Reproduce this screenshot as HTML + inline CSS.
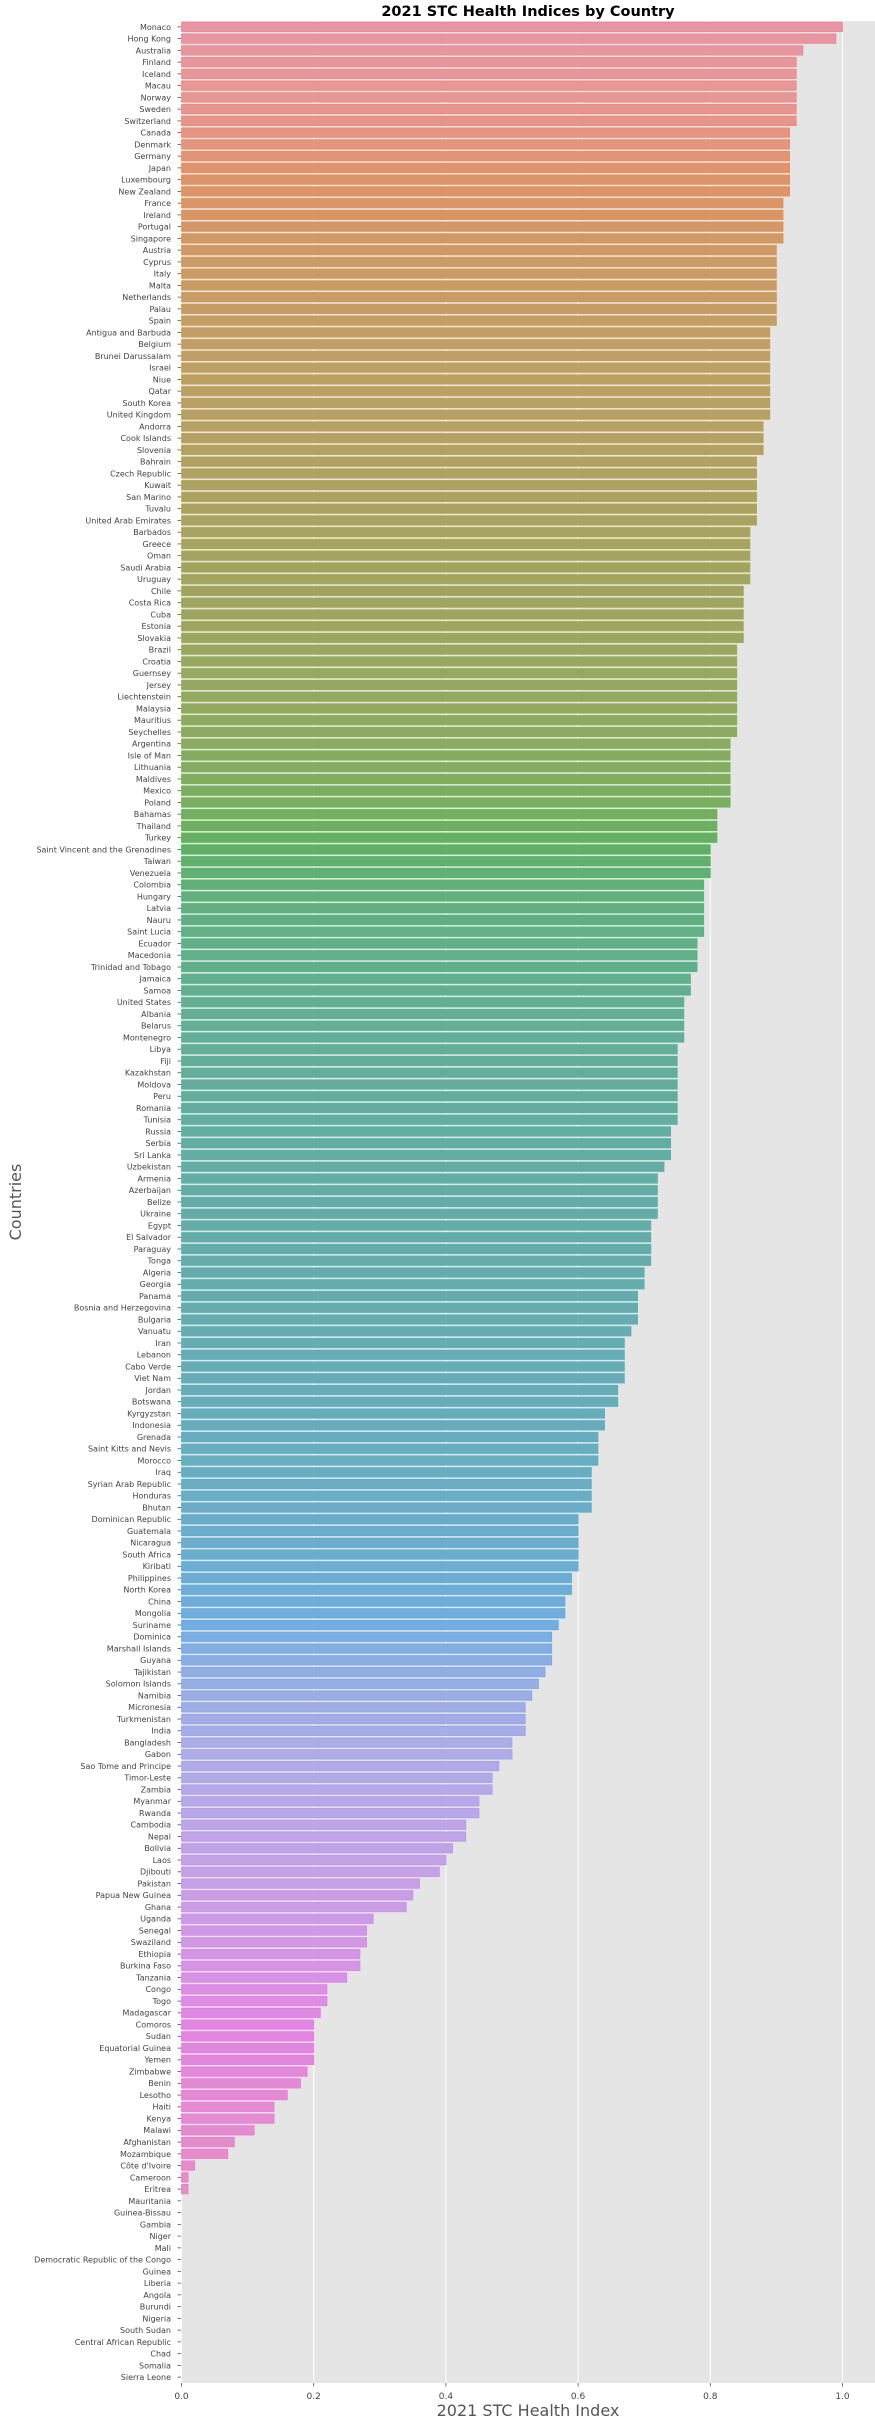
<!DOCTYPE html>
<html><head><meta charset="utf-8"><title>2021 STC Health Indices by Country</title>
<style>html,body{margin:0;padding:0;background:#fff;}svg{display:block;}</style></head>
<body>
<svg id="chart" width="875" height="2423" viewBox="0 0 875 2423" xmlns="http://www.w3.org/2000/svg" font-family="'DejaVu Sans','Liberation Sans',sans-serif">
<text x="528" y="16" text-anchor="middle" font-size="14.5" font-weight="bold" fill="#000">2021 STC Health Indices by Country</text>
<rect x="181.5" y="21" width="693.5" height="2362" fill="#e5e5e5"/>
<g id="grid"></g><g id="bars"></g><g id="yaxis"></g><g id="xaxis"></g>
<text transform="translate(21,1202) rotate(-90)" text-anchor="middle" font-size="16" fill="#555">Countries</text>
<text x="528" y="2416" text-anchor="middle" font-size="16" fill="#555">2021 STC Health Index</text>
</svg>
<script>
const countries = ["Monaco","Hong Kong","Australia","Finland","Iceland","Macau","Norway","Sweden","Switzerland","Canada","Denmark","Germany","Japan","Luxembourg","New Zealand","France","Ireland","Portugal","Singapore","Austria","Cyprus","Italy","Malta","Netherlands","Palau","Spain","Antigua and Barbuda","Belgium","Brunei Darussalam","Israel","Niue","Qatar","South Korea","United Kingdom","Andorra","Cook Islands","Slovenia","Bahrain","Czech Republic","Kuwait","San Marino","Tuvalu","United Arab Emirates","Barbados","Greece","Oman","Saudi Arabia","Uruguay","Chile","Costa Rica","Cuba","Estonia","Slovakia","Brazil","Croatia","Guernsey","Jersey","Liechtenstein","Malaysia","Mauritius","Seychelles","Argentina","Isle of Man","Lithuania","Maldives","Mexico","Poland","Bahamas","Thailand","Turkey","Saint Vincent and the Grenadines","Taiwan","Venezuela","Colombia","Hungary","Latvia","Nauru","Saint Lucia","Ecuador","Macedonia","Trinidad and Tobago","Jamaica","Samoa","United States","Albania","Belarus","Montenegro","Libya","Fiji","Kazakhstan","Moldova","Peru","Romania","Tunisia","Russia","Serbia","Sri Lanka","Uzbekistan","Armenia","Azerbaijan","Belize","Ukraine","Egypt","El Salvador","Paraguay","Tonga","Algeria","Georgia","Panama","Bosnia and Herzegovina","Bulgaria","Vanuatu","Iran","Lebanon","Cabo Verde","Viet Nam","Jordan","Botswana","Kyrgyzstan","Indonesia","Grenada","Saint Kitts and Nevis","Morocco","Iraq","Syrian Arab Republic","Honduras","Bhutan","Dominican Republic","Guatemala","Nicaragua","South Africa","Kiribati","Philippines","North Korea","China","Mongolia","Suriname","Dominica","Marshall Islands","Guyana","Tajikistan","Solomon Islands","Namibia","Micronesia","Turkmenistan","India","Bangladesh","Gabon","Sao Tome and Principe","Timor-Leste","Zambia","Myanmar","Rwanda","Cambodia","Nepal","Bolivia","Laos","Djibouti","Pakistan","Papua New Guinea","Ghana","Uganda","Senegal","Swaziland","Ethiopia","Burkina Faso","Tanzania","Congo","Togo","Madagascar","Comoros","Sudan","Equatorial Guinea","Yemen","Zimbabwe","Benin","Lesotho","Haiti","Kenya","Malawi","Afghanistan","Mozambique","Côte d'Ivoire","Cameroon","Eritrea","Mauritania","Guinea-Bissau","Gambia","Niger","Mali","Democratic Republic of the Congo","Guinea","Liberia","Angola","Burundi","Nigeria","South Sudan","Central African Republic","Chad","Somalia","Sierra Leone"];
const values = [1.00,0.99,0.94,0.93,0.93,0.93,0.93,0.93,0.93,0.92,0.92,0.92,0.92,0.92,0.92,0.91,0.91,0.91,0.91,0.90,0.90,0.90,0.90,0.90,0.90,0.90,0.89,0.89,0.89,0.89,0.89,0.89,0.89,0.89,0.88,0.88,0.88,0.87,0.87,0.87,0.87,0.87,0.87,0.86,0.86,0.86,0.86,0.86,0.85,0.85,0.85,0.85,0.85,0.84,0.84,0.84,0.84,0.84,0.84,0.84,0.84,0.83,0.83,0.83,0.83,0.83,0.83,0.81,0.81,0.81,0.80,0.80,0.80,0.79,0.79,0.79,0.79,0.79,0.78,0.78,0.78,0.77,0.77,0.76,0.76,0.76,0.76,0.75,0.75,0.75,0.75,0.75,0.75,0.75,0.74,0.74,0.74,0.73,0.72,0.72,0.72,0.72,0.71,0.71,0.71,0.71,0.70,0.70,0.69,0.69,0.69,0.68,0.67,0.67,0.67,0.67,0.66,0.66,0.64,0.64,0.63,0.63,0.63,0.62,0.62,0.62,0.62,0.60,0.60,0.60,0.60,0.60,0.59,0.59,0.58,0.58,0.57,0.56,0.56,0.56,0.55,0.54,0.53,0.52,0.52,0.52,0.50,0.50,0.48,0.47,0.47,0.45,0.45,0.43,0.43,0.41,0.40,0.39,0.36,0.35,0.34,0.29,0.28,0.28,0.27,0.27,0.25,0.22,0.22,0.21,0.20,0.20,0.20,0.20,0.19,0.18,0.16,0.14,0.14,0.11,0.08,0.07,0.02,0.01,0.01,0,0,0,0,0,0,0,0,0,0,0,0,0,0,0,0];
const xTicks = [0,0.2,0.4,0.6,0.8,1.0];
const xTickLabels = ["0.0","0.2","0.4","0.6","0.8","1.0"];

const NS="http://www.w3.org/2000/svg";
const plotL=181.5, plotR=875, plotT=21, plotB=2383;
const xScale=v=>plotL+v*661;
const band=(plotB-plotT)/countries.length;
const yScale=i=>plotT+band*(i+0.5);

const M=[[3.240969941904521,-1.537383177570093,-0.498610760293],[-0.96924363628087,1.87596750150772,0.041555057407175],[0.055630079696993,-0.20397695888897,1.056971514242878]];
const refU=0.19783000664283,refV=0.46831999493879,kappa=903.2962962,eps=0.0088564516;
function bounds(L){const s1=Math.pow(L+16,3)/1560896;const s2=s1>eps?s1:L/kappa;const r=[];for(const [m1,m2,m3] of M){for(const t of [0,1]){const top1=(284517*m1-94839*m3)*s2;const top2=(838422*m3+769860*m2+731718*m1)*L*s2-769860*t*L;const bot=(632260*m3-126452*m2)*s2+126452*t;r.push([top1/bot,top2/bot]);}}return r;}
function maxC(L,H){const h=H/360*2*Math.PI;let mn=Infinity;for(const [m,b] of bounds(L)){const len=b/(Math.sin(h)-m*Math.cos(h));if(len>=0&&len<mn)mn=len;}return mn;}
function fromLin(c){return c<=0.0031308?12.92*c:1.055*Math.pow(c,1/2.4)-0.055;}
function husl(H,S,L){const C=maxC(L,H)/100*S;const h=H/360*2*Math.PI;const U=C*Math.cos(h),V=C*Math.sin(h);
const Y=L>8?Math.pow((L+16)/116,3):L/kappa;const vu=U/(13*L)+refU,vv=V/(13*L)+refV;
const X=-(9*Y*vu)/((vu-4)*vv-vu*vv);const Z=(9*Y-15*vv*Y-vv*X)/(3*vv);
return M.map(r=>Math.min(1,Math.max(0,fromLin(r[0]*X+r[1]*Y+r[2]*Z))));}
function rgb2hls(r,g,b){const mx=Math.max(r,g,b),mn=Math.min(r,g,b);const l=(mx+mn)/2;if(mx===mn)return[0,l,0];const d=mx-mn;const s=l<=0.5?d/(mx+mn):d/(2-mx-mn);let h;if(mx===r)h=((g-b)/d)%6;else if(mx===g)h=(b-r)/d+2;else h=(r-g)/d+4;h/=6;if(h<0)h+=1;return[h,l,s];}
function hls2rgb(h,l,s){if(s===0)return[l,l,l];const q=l<=0.5?l*(1+s):l+s-l*s,p=2*l-q;const f=t=>{t=(t%1+1)%1;if(t<1/6)return p+(q-p)*6*t;if(t<0.5)return q;if(t<2/3)return p+(q-p)*(2/3-t)*6;return p;};return[f(h+1/3),f(h),f(h-1/3)];}
const hex=c=>'#'+c.map(v=>Math.round(Math.min(1,Math.max(0,v))*255).toString(16).padStart(2,'0')).join('');
const bg=[229/255,229/255,229/255];
function colorFor(i,n){let h=(i/n+0.01)%1;h*=359;const base=husl(h,89.1,64.35);const [hh,ll,ss]=rgb2hls(...base);const d=hls2rgb(hh,ll,ss*0.75);
const fill=d.map((v,k)=>v*0.8+bg[k]*0.2);const edge=base.map((v,k)=>v*0.85+bg[k]*0.15);return [hex(fill),hex(edge)];}

const grid=document.getElementById('grid');
xTicks.forEach((t,k)=>{
  const ln=document.createElementNS(NS,'line');
  
  
  ln.setAttribute('x1',xScale(t));ln.setAttribute('x2',xScale(t));
  ln.setAttribute('y1',plotT);ln.setAttribute('y2',plotB);
  ln.setAttribute('stroke','#fff');ln.setAttribute('stroke-width','1');
  grid.appendChild(ln);
});
const bars=document.getElementById('bars'),yaxis=document.getElementById('yaxis'),xaxis=document.getElementById('xaxis');
countries.forEach((c,i)=>{
  const cy=yScale(i),h=band*0.8;
  const [fill,edge]=colorFor(i,countries.length);
  if(values[i]>0){
    const r=document.createElementNS(NS,'rect');
    
    
    r.setAttribute('x',plotL);r.setAttribute('y',cy-h/2);
    r.setAttribute('width',xScale(values[i])-plotL);r.setAttribute('height',h);
    r.setAttribute('fill',fill);r.setAttribute('stroke',edge);r.setAttribute('stroke-width','0.8');
    bars.appendChild(r);
  }
  const tk=document.createElementNS(NS,'line');
  
  
  tk.setAttribute('x1',177.5);tk.setAttribute('x2',181);tk.setAttribute('y1',cy);tk.setAttribute('y2',cy);
  tk.setAttribute('stroke','#555');tk.setAttribute('stroke-width','0.8');
  yaxis.appendChild(tk);
  const tx=document.createElementNS(NS,'text');
  
  
  tx.setAttribute('x',171);tx.setAttribute('y',cy+2.9);tx.setAttribute('text-anchor','end');
  tx.setAttribute('font-size','8');tx.setAttribute('fill','#444');
  tx.textContent=c;
  yaxis.appendChild(tx);
});
xTicks.forEach((t,k)=>{
  const tk=document.createElementNS(NS,'line');
  
  
  tk.setAttribute('x1',xScale(t));tk.setAttribute('x2',xScale(t));tk.setAttribute('y1',plotB);tk.setAttribute('y2',plotB+3.5);
  tk.setAttribute('stroke','#555');tk.setAttribute('stroke-width','0.8');
  xaxis.appendChild(tk);
  const tx=document.createElementNS(NS,'text');
  
  
  tx.setAttribute('x',xScale(t));tx.setAttribute('y',plotB+16);tx.setAttribute('text-anchor','middle');
  tx.setAttribute('font-size','9');tx.setAttribute('fill','#444');
  tx.textContent=xTickLabels[k];
  xaxis.appendChild(tx);
});
</script>
</body></html>
